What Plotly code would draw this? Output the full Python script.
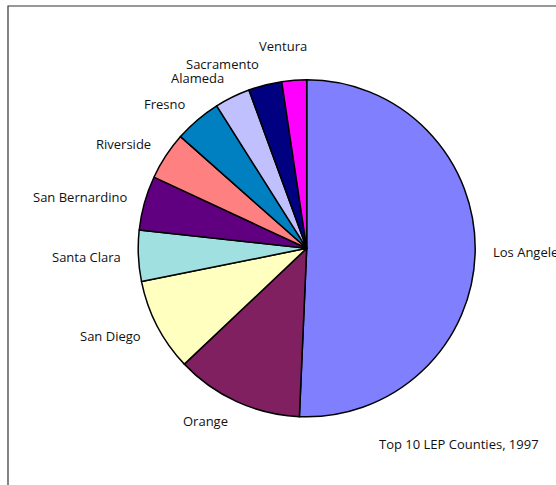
import math
import plotly.graph_objects as go

# Data (share of top-10 LEP counties, 1997, %)
counties = ["Los Angeles", "Orange", "San Diego", "Santa Clara", "San Bernardino",
            "Riverside", "Fresno", "Alameda", "Sacramento", "Ventura"]
shares = [50.7, 12.25, 8.9, 4.9, 5.2, 4.6, 4.5, 3.4, 3.2, 2.37]
colors = ["#8080FF", "#802060", "#FFFFC0", "#A0E0E0", "#600080",
          "#FF8080", "#0080C0", "#C0C0FF", "#000080", "#FF00FF"]
title_text = "Top 10 LEP Counties, 1997"

W, H = 556, 485
CX, CY, R = 306.7, 248.3, 168.5
FONT = "'Open Sans', Lato, sans-serif"
FS = 13

fig = go.Figure(go.Pie(
    labels=counties, values=shares, sort=False, direction="clockwise",
    rotation=0, textinfo="none", hoverinfo="label+value",
    marker=dict(colors=colors, line=dict(color="black", width=1.5)),
    domain=dict(x=[(CX - R) / W, (CX + R) / W],
                y=[(H - CY - R) / H, (H - CY + R) / H]),
    showlegend=False,
))

# Outside labels placed at each slice's mid angle
annotations = []
total = sum(shares)
cum = 0.0
D = 184
for name, v in zip(counties, shares):
    mid = (cum + v / 2) / total * 2 * math.pi
    cum += v
    s, c = math.sin(mid), math.cos(mid)
    px = CX + D * s
    py = CY - D * c
    if abs(s) < 0.1:
        xanchor = "center"
        px = CX + 197 * s - 9
        py = CY - 197 * c
        ycenter = py - 6 if c > 0 else py + 6
    else:
        xanchor = "right" if s < 0 else "left"
        ycenter = py - c * 6
    annotations.append(dict(
        x=px / W, y=1 - ycenter / H, xref="paper", yref="paper",
        text=name, showarrow=False, xanchor=xanchor, yanchor="middle",
        font=dict(family=FONT, size=FS, color="#111111"),
    ))

annotations.append(dict(
    x=376.7 / W, y=1 - 444 / H, xref="paper", yref="paper",
    text=title_text, showarrow=False, xanchor="left", yanchor="middle",
    font=dict(family=FONT, size=FS, color="#111111"),
))

fig.update_layout(
    width=W, height=H, autosize=False,
    margin=dict(l=0, r=0, t=0, b=0),
    paper_bgcolor="white", plot_bgcolor="white",
    annotations=annotations,
    shapes=[dict(type="rect", xref="paper", yref="paper",
                 x0=8 / W, x1=1.05, y0=-0.05, y1=1 - 6 / H,
                 line=dict(color="#333333", width=1.2), fillcolor="rgba(0,0,0,0)")],
)

fig.write_html("out.html", config={"displayModeBar": False},
               post_script="document.body.style.margin='0';document.body.style.overflow='hidden';")
